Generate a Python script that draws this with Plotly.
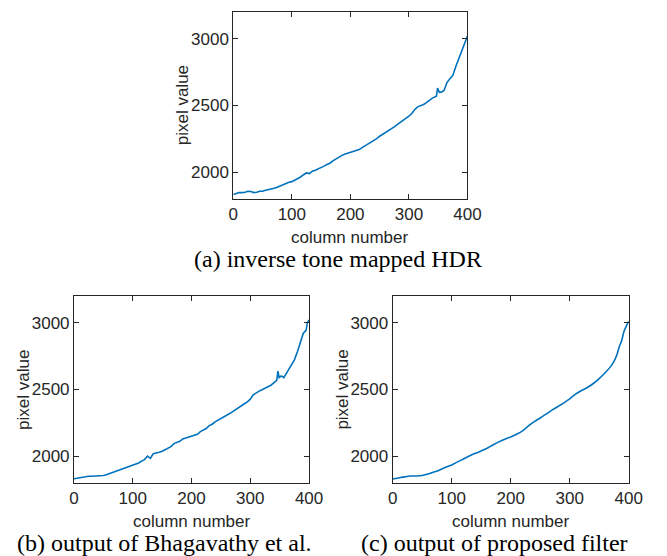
import plotly.graph_objects as go

W, H = 667, 556

# ---- data ----
cols_a = list(range(0, 345, 5)) + [347, 349, 352, 355, 360, 365, 370, 375, 380, 385, 390, 395, 400]
vals_a = [1834, 1840, 1848, 1848, 1850, 1858, 1856, 1848, 1850, 1858,
          1858, 1866, 1870, 1872, 1880, 1888, 1898, 1910, 1920, 1926,
          1930, 1940, 1950, 1965, 1982, 1995, 1990, 2008, 2015, 2024,
          2034, 2046, 2058, 2068, 2085, 2100, 2112, 2125, 2135, 2142,
          2148, 2155, 2162, 2170, 2185, 2198, 2210, 2225, 2240, 2252,
          2270, 2283, 2296, 2310, 2325, 2340, 2357, 2372, 2388, 2400,
          2420, 2440, 2470, 2490, 2498, 2508, 2522, 2538, 2555,
          2570, 2630, 2598, 2600, 2612, 2672, 2700, 2725, 2790, 2845, 2910, 2970, 3020]

cols_b = list(range(0, 345, 5)) + [345, 347, 349, 352, 355, 357, 360, 365, 370, 375, 380, 385, 390, 395, 397, 400]
vals_b = [1832, 1836, 1840, 1843, 1846, 1851, 1850, 1851, 1852, 1852,
          1856, 1862, 1870, 1876, 1883, 1890, 1898, 1906, 1916, 1924,
          1930, 1938, 1950, 1964, 1975, 2002, 1985, 2020, 2024, 2030,
          2038, 2050, 2062, 2072, 2095, 2104, 2112, 2130, 2136, 2142,
          2150, 2156, 2165, 2185, 2195, 2208, 2230, 2240, 2258, 2270,
          2280, 2292, 2306, 2320, 2335, 2348, 2362, 2380, 2393, 2408,
          2428, 2460, 2475, 2488, 2498, 2508, 2520, 2532, 2550,
          2568, 2637, 2590, 2600, 2598, 2588, 2610, 2640, 2675, 2722, 2780, 2845, 2920, 2945, 3000, 3020]
cols_b = cols_b[:len(vals_b)]

cols_c = sorted(set(list(range(0, 380, 10)) + [375, 380, 384, 388, 392, 396, 400]))
vals_c = [1830, 1838, 1846, 1852, 1852, 1856, 1868, 1882, 1898, 1918,
          1935, 1958, 1980, 2002, 2022, 2040, 2060, 2085, 2108, 2128,
          2145, 2165, 2190, 2228, 2260, 2287, 2316, 2345, 2373, 2400,
          2430, 2465, 2492, 2515, 2545, 2582, 2625, 2675, 2710, 2760,
          2820, 2865, 2935, 2975, 3010]

x_ticks = [0, 100, 200, 300, 400]
y_ticks = [2000, 2500, 3000]
x_title = "column number"
y_title = "pixel value"
captions = ["(a) inverse tone mapped HDR",
            "(b) output of Bhagavathy et al.",
            "(c) output of proposed filter"]

# ---- layout (pixel boxes) ----
boxes = [(235, 476, 12, 199), (71, 313, 296, 483), (399, 642, 296, 483)]
series = [(cols_a, vals_a, "linear"), (cols_b, vals_b, "linear"), (cols_c, vals_c, "spline")]
cap_x = [343, 164, 504]

AX = "#262626"
BLUE = "#0072BD"
sans = "Liberation Sans, Arial, sans-serif"
serif = "Liberation Serif, Times New Roman, serif"

fig = go.Figure()
annotations = []
for i, ((x0, x1, y0, y1), (cx, cy, shape)) in enumerate(zip(boxes, series)):
    n = "" if i == 0 else str(i + 1)
    fig.add_trace(go.Scatter(x=cx, y=cy, mode="lines",
                             line=dict(color=BLUE, width=1.6, shape=shape),
                             xaxis="x" + n, yaxis="y" + n, showlegend=False,
                             hoverinfo="skip"))
    common = dict(showline=True, linecolor=AX, linewidth=1, mirror="ticks",
                  ticks="inside", ticklen=5, tickcolor=AX, tickwidth=1,
                  showgrid=False, zeroline=False,
                  tickfont=dict(family=sans, size=17, color=AX))
    fig.layout["xaxis" + n] = dict(domain=[x0 / W, x1 / W], range=[0, 400],
                                   tickvals=x_ticks, anchor="y" + n, **common)
    fig.layout["yaxis" + n] = dict(domain=[1 - y1 / H, 1 - y0 / H], range=[1800, 3200],
                                   tickvals=y_ticks, anchor="x" + n, **common)
    xc = (x0 + x1) / 2
    annotations.append(dict(text=x_title, x=xc / W, y=1 - (y1 + 38) / H,
                            xref="paper", yref="paper", showarrow=False,
                            xanchor="center", yanchor="middle",
                            font=dict(family=sans, size=17, color=AX)))
    annotations.append(dict(text=y_title, x=(x0 - 52) / W, y=1 - (y0 + y1) / 2 / H,
                            xref="paper", yref="paper", showarrow=False, textangle=-90,
                            xanchor="center", yanchor="middle",
                            font=dict(family=sans, size=17, color=AX)))
    annotations.append(dict(text=captions[i], x=cap_x[i] / W, y=1 - (y1 + 60) / H,
                            xref="paper", yref="paper", showarrow=False,
                            xanchor="center", yanchor="middle",
                            font=dict(family=serif, size=24, color="black")))

fig.update_layout(width=W, height=H, margin=dict(l=0, r=0, t=0, b=0),
                  paper_bgcolor="white", plot_bgcolor="white",
                  annotations=annotations)
fig.write_html("out.html", config={"displayModeBar": False},
               post_script="document.body.style.margin='0';document.body.style.overflow='hidden';")
